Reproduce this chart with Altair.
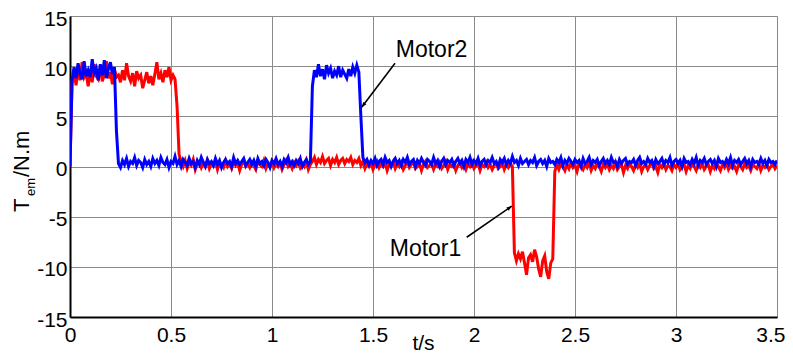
import altair as alt
import pandas as pd

# Motor1 electromagnetic torque (N.m), sampled every 0.01 s from 0 to 3.5 s
motor1 = [
    0, 8.3, 9.4, 8.1, 9.8, 8.6, 10.4, 8.9, 9.3, 8.0,
    9.6, 8.4, 10.2, 9.0, 8.7, 9.9, 8.5, 9.2, 10.5, 8.8,
    9.4, 8.2, 9.7, 8.9, 9.1, 8.4, 9.6, 8.6, 10.3, 9.0,
    8.5, 9.3, 8.0, 9.5, 8.8, 9.1, 7.8, 8.6, 9.4, 8.3,
    9.0, 8.1, 9.2, 10.4, 8.7, 9.3, 8.4, 9.6, 8.9, 9.9,
    8.6, 9.1, 8.7, 6.0, 1.2, 0.5, 0.0, 0.6, -0.2, 0.4,
    0.1, 0.7, -0.3, 0.3, 0.5, -0.1, 0.4, 0.0, 0.6, -0.2,
    0.3, 0.1, 0.5, -0.3, 0.4, 0.2, -0.1, 0.6, 0.0, 0.3,
    -0.2, 0.5, 0.1, 0.4, -0.4, 0.2, 0.6, 0.0, 0.3, -0.1,
    0.4, 0.1, -0.3, 0.5, 0.2, 0.0, 0.6, -0.2, 0.3, 0.1,
    0.5, -0.1, 0.3, 0.0, 0.4, -0.3, 0.2, 0.6, 0.0, 0.3,
    -0.2, 0.4, 0.1, 0.5, -0.1, 0.3, 0.0, 0.6, -0.3, 0.2,
    0.5, 0.9, 0.2, 0.7, 0.4, 1.0, 0.3, 0.6, 0.8, 0.1,
    0.7, 0.4, 0.9, 0.2, 0.6, 0.8, 0.3, 0.7, 0.5, 0.9,
    0.2, 0.6, 0.4, 0.8, 0.1, 0.5, -0.2, 0.3, 0.0, 0.4,
    -0.3, 0.2, 0.5, -0.1, 0.3, 0.0, 0.4, -0.4, 0.2, 0.1,
    0.5, -0.2, 0.3, 0.0, 0.4, -0.3, 0.1, 0.5, -0.1, 0.2,
    0.4, -0.2, 0.0, 0.3, -0.4, 0.2, 0.5, -0.1, 0.1, 0.3,
    -0.3, 0.2, 0.0, 0.4, -0.2, 0.1, 0.5, -0.3, 0.2, 0.0,
    0.3, -0.4, 0.1, 0.4, -0.1, 0.2, -0.3, 0.3, 0.0, 0.4,
    -0.2, 0.1, 0.3, -0.4, 0.2, 0.0, 0.4, -0.1, 0.2, -0.3,
    0.1, 0.3, -0.2, 0.0, 0.4, -0.3, 0.2, -0.1, 0.3, 0.0,
    -8.6, -9.4, -8.7, -9.2, -8.5, -9.6, -10.8, -9.1, -8.8, -9.5,
    -8.3, -9.0, -10.2, -11.0, -9.4, -8.9, -10.5, -11.2, -9.6, -9.2,
    -0.5, 0.2, -0.3, 0.3, 0.0, -0.4, 0.2, -0.2, 0.4, -0.1,
    0.1, -0.5, 0.3, 0.0, -0.3, 0.2, -0.1, 0.4, -0.4, 0.1,
    -0.2, 0.3, 0.0, -0.5, 0.2, -0.1, 0.3, -0.3, 0.1, -0.2,
    0.4, -0.3, 0.0, 0.2, -0.6, 0.1, -0.2, 0.3, 0.0, -0.4,
    0.2, -0.1, 0.3, -0.5, 0.0, 0.2, -0.3, 0.1, 0.4, -0.2,
    0.0, -0.6, 0.2, -0.1, 0.3, -0.3, 0.1, 0.0, -0.4, 0.2,
    -0.1, 0.3, -0.3, 0.0, 0.2, -0.5, 0.1, -0.2, 0.3, 0.0,
    -0.4, 0.2, -0.1, 0.3, -0.3, 0.0, 0.2, -0.5, 0.1, -0.2,
    0.3, 0.0, -0.4, 0.2, -0.1, 0.4, -0.3, 0.1, -0.2, 0.0,
    -0.5, 0.2, 0.0, -0.3, 0.3, -0.1, 0.1, -0.4, 0.2, 0.0,
    -0.2, 0.3, -0.4, 0.1, -0.1, 0.2, -0.3, 0.0, 0.3, -0.2,
    0.1,
]

# Motor2 electromagnetic torque (N.m), same sampling
motor2 = [
    0, 8.6, 9.9, 8.8, 10.3, 9.2, 8.7, 10.5, 9.0, 9.6,
    8.9, 10.7, 9.3, 9.8, 8.6, 10.2, 9.1, 10.6, 8.8, 9.7,
    10.4, 9.2, 9.9, 3.5, 0.3, -0.1, 0.6, 0.2, 0.8, 0.0,
    0.5, 0.3, 0.9, 0.1, 0.6, 0.4, -0.1, 0.7, 0.2, 0.5,
    0.0, 0.8, 0.3, 0.6, 0.1, 0.9, 0.4, 0.2, 0.7, -0.1,
    0.5, 0.3, 1.0, 0.2, 0.6, 0.0, 0.7, 0.4, 0.1, 0.8,
    0.3, 0.5, -0.1, 0.6, 0.2, 0.9, 0.4, 0.0, 0.7, 0.3,
    0.5, 0.1, 0.8, 0.2, 0.6, -0.1, 0.4, 0.7, 0.3, 0.5,
    0.0, 0.9, 0.3, 0.6, 0.2, 0.5, 0.8, 0.1, 0.4, 0.7,
    0.2, 0.6, 0.0, 0.8, 0.3, 0.5, 0.1, 0.7, 0.4, -0.1,
    0.6, 0.3, 0.8, 0.2, 0.5, 0.0, 0.7, 0.4, 0.9, 0.2,
    0.5, 0.1, 0.6, 0.3, 0.8, 0.0, 0.4, 0.7, 0.2, 0.5,
    8.0, 9.6, 8.9, 10.2, 9.0, 9.7, 8.7, 10.1, 9.3, 9.8,
    8.8, 9.5, 9.1, 10.0, 8.9, 9.6, 9.2, 8.8, 9.7, 9.0,
    9.9, 9.3, 10.1, 9.4, 5.0, 0.9, 0.4, 0.7, 0.2, 0.6,
    0.3, 0.8, 0.1, 0.5, 0.7, 0.2, 0.9, 0.4, 0.6, 0.0,
    0.5, 0.8, 0.3, 0.6, 0.1, 0.7, 0.4, 0.9, 0.2, 0.5,
    0.7, 0.0, 0.6, 0.3, 0.8, 0.4, 0.1, 0.7, 0.5, 0.2,
    0.9, 0.3, 0.6, 0.0, 0.5, 0.8, 0.2, 0.6, 0.4, 0.7,
    0.1, 0.5, 0.8, 0.3, 0.6, 0.0, 0.7, 0.4, 0.9, 0.2,
    0.6, 0.3, 0.8, 0.1, 0.5, 0.7, 0.2, 0.6, 0.4, 0.9,
    0.3, 0.5, 0.0, 0.7, 0.4, 0.8, 0.2, 0.6, 0.3, 1.0,
    0.4, 0.6, 0.1, 0.8, 0.3, 0.5, 0.7, 0.2, 0.6, 0.4,
    0.9, 0.1, 0.5, 0.7, 0.3, 0.6, 0.0, 0.8, 0.4, 0.5,
    0.2, 0.7, 0.4, 0.9, 0.1, 0.6, 0.3, 0.8, 0.5, 0.2,
    0.7, 0.4, 0.6, 0.0, 0.8, 0.3, 0.5, 0.9, 0.2, 0.6,
    0.4, 0.7, 0.1, 0.5, 0.8, 0.3, 0.6, 0.2, 0.9, 0.4,
    0.5, 0.0, 0.7, 0.3, 0.6, 0.8, 0.2, 0.5, 0.4, 0.7,
    0.1, 0.6, 0.9, 0.3, 0.5, 0.2, 0.8, 0.4, 0.6, 0.0,
    0.7, 0.3, 0.5, 0.8, 0.2, 0.6, 0.4, 0.9, 0.1, 0.5,
    0.7, 0.3, 0.6, 0.0, 0.8, 0.4, 0.5, 0.2, 0.7, 0.3,
    0.9, 0.1, 0.6, 0.4, 0.8, 0.2, 0.5, 0.7, 0.3, 0.6,
    0.0, 0.8, 0.4, 0.5, 0.2, 0.7, 0.3, 0.9, 0.1, 0.6,
    0.4, 0.7, 0.2, 0.5, 0.8, 0.3, 0.6, 0.0, 0.7, 0.4,
    0.5, 0.2, 0.8, 0.3, 0.6, 0.1, 0.7, 0.4, 0.5, 0.2,
    0.6,
]

time_s = [round(i * 0.01, 2) for i in range(len(motor1))]

x_ticks = [0, 0.5, 1, 1.5, 2, 2.5, 3, 3.5]
y_ticks = [-15, -10, -5, 0, 5, 10, 15]

# annotations (data coordinates)
ann_labels = ["Motor2", "Motor1"]
ann_text_t = [1.79, 1.76]
ann_text_v = [11.6, -8.25]
arrow_t0 = [1.609, 1.964]
arrow_v0 = [10.3, -7.05]
arrow_t1 = [1.444, 2.187]
arrow_v1 = [5.9, -3.95]
arrow_angle = [217, 55]

FONT = "Liberation Sans"
W, H = 707, 301

df1 = pd.DataFrame({"t": time_s, "v": motor1})
df2 = pd.DataFrame({"t": time_s, "v": motor2[: len(time_s)]})
ann = pd.DataFrame({"label": ann_labels, "t": ann_text_t, "v": ann_text_v})
arr = pd.DataFrame({"t0": arrow_t0, "v0": arrow_v0, "t1": arrow_t1, "v1": arrow_v1, "ang": arrow_angle})

xscale = alt.Scale(domain=[0, 3.5], nice=False, zero=False)
yscale = alt.Scale(domain=[-15, 15], nice=False, zero=False)

xaxis = alt.Axis(
    values=x_ticks, grid=True, gridColor="#8a8a8a", gridWidth=1, ticks=False,
    labelFont=FONT, labelFontSize=21, labelColor="#000", labelFlush=False,
    labelPadding=7, labelExpr="datum.value + ''", domainColor="#000", domainWidth=2,
    labelAlign={"condition": {"test": "datum.value == 3.5", "value": "right"}, "value": "center"},
    labelOffset={"condition": {"test": "datum.value == 3.5", "value": 8}, "value": 0},
    title=None,
)
yaxis = alt.Axis(
    values=y_ticks, grid=True, gridColor="#8a8a8a", gridWidth=1, ticks=False,
    labelFont=FONT, labelFontSize=21, labelColor="#000", labelFlush=False,
    labelPadding=3, labelOffset=3, labelExpr="datum.value + ''",
    domainColor="#000", domainWidth=2,
)

red = alt.Chart(df1).mark_line(color="#ff0000", strokeWidth=3, clip=True).encode(
    x=alt.X("t:Q", scale=xscale, axis=xaxis),
    y=alt.Y("v:Q", scale=yscale, axis=yaxis, title=None),
)
blue = alt.Chart(df2).mark_line(color="#0000ff", strokeWidth=3, clip=True).encode(
    x=alt.X("t:Q", scale=xscale),
    y=alt.Y("v:Q", scale=yscale),
)

labels = alt.Chart(ann).mark_text(font=FONT, fontSize=23, color="#000").encode(
    x=alt.X("t:Q", scale=xscale), y=alt.Y("v:Q", scale=yscale), text="label:N"
)
shafts = alt.Chart(arr).mark_rule(color="#000", strokeWidth=1.6).encode(
    x=alt.X("t0:Q", scale=xscale), y=alt.Y("v0:Q", scale=yscale),
    x2="t1:Q", y2="v1:Q",
)
heads = alt.Chart(arr).mark_point(
    shape="M0,0 L-0.38,1 L0.38,1 Z", filled=True, color="#000", opacity=1, size=110
).encode(
    x=alt.X("t1:Q", scale=xscale), y=alt.Y("v1:Q", scale=yscale),
    angle=alt.Angle("ang:Q", scale=None),
)

# axis titles as text pieces (the y title has a subscript)
xt = alt.Chart(pd.DataFrame({"s": ["t/s"]})).mark_text(
    font=FONT, fontSize=21, align="center", baseline="alphabetic", color="#000"
).encode(x=alt.value(W / 2), y=alt.value(H + 33), text="s:N")
yt_T = alt.Chart(pd.DataFrame({"s": ["T"]})).mark_text(
    font=FONT, fontSize=22, angle=270, align="left", baseline="middle", color="#000"
).encode(x=alt.value(-48.5), y=alt.value(196), text="s:N")
yt_em = alt.Chart(pd.DataFrame({"s": ["em"]})).mark_text(
    font=FONT, fontSize=13, angle=270, align="left", baseline="middle", color="#000"
).encode(x=alt.value(-39), y=alt.value(180), text="s:N")
yt_rest = alt.Chart(pd.DataFrame({"s": ["/N.m"]})).mark_text(
    font=FONT, fontSize=22, angle=270, align="left", baseline="middle", color="#000"
).encode(x=alt.value(-48.5), y=alt.value(161), text="s:N")

chart = alt.layer(red, blue, shafts, heads, labels, xt, yt_T, yt_em, yt_rest).properties(
    width=W, height=H,
    autosize=alt.AutoSizeParams(type="none"),
    padding={"left": 62, "top": 8, "right": 8, "bottom": 38},
).configure_view(stroke="#000", strokeWidth=1.5).configure(background="white")

chart.save("out.html", embed_options={"renderer": "svg", "actions": False})
